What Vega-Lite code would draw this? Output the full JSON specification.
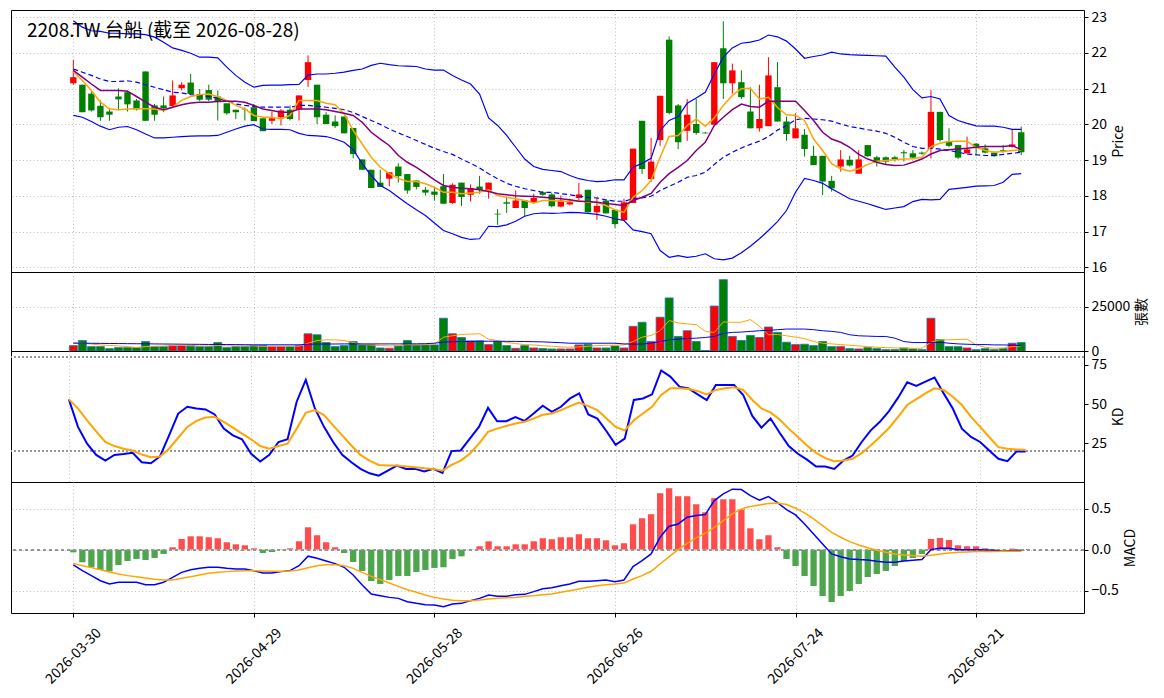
{
  "$schema": "https://vega.github.io/schema/vega-lite/v6.json",
  "description": "2208.TW candlestick with Bollinger bands, volume, KD and MACD",
  "background": "white",
  "padding": {"left": 10, "top": 9, "right": 5, "bottom": 5},
  "autosize": {"type": "pad"},
  "spacing": 0,
  "bounds": "flush",
  "config": {
    "font": "Noto Sans CJK TC",
    "view": {"stroke": "black", "strokeWidth": 1},
    "axis": {
      "domain": false,
      "gridColor": "#b0b0b0",
      "gridDash": [1, 2.5],
      "gridWidth": 0.8,
      "tickColor": "black",
      "tickSize": 4,
      "labelColor": "black",
      "labelFontSize": 14,
      "labelPadding": 3,
      "labelOverlap": false,
      "titleColor": "black",
      "titleFontSize": 14,
      "titleFontWeight": "normal"
    }
  },
  "datasets": {
    "d": [
      {"i":0,"o":21.15,"h":21.80,"l":21.11,"c":21.32,"v":3050,"bu":22.90,"bm":21.55,"bl":20.25,"m5":21.48,"m10":21.51,"v5":4700,"v20":4400,"k":53.0,"d":53.0,"hist":-0.033,"dif":-0.185,"dea":-0.168},
      {"i":1,"o":21.11,"h":21.11,"l":20.34,"c":20.34,"v":5900,"bu":22.72,"bm":21.46,"bl":20.20,"m5":21.23,"m10":21.32,"v5":4400,"v20":4380,"k":35.5,"d":47.2,"hist":-0.155,"dif":-0.257,"dea":-0.196},
      {"i":2,"o":20.86,"h":20.92,"l":20.36,"c":20.39,"v":2480,"bu":22.62,"bm":21.37,"bl":20.08,"m5":20.95,"m10":21.13,"v5":3900,"v20":4350,"k":24.8,"d":39.7,"hist":-0.216,"dif":-0.318,"dea":-0.220},
      {"i":3,"o":20.52,"h":20.67,"l":20.10,"c":20.20,"v":2480,"bu":22.60,"bm":21.27,"bl":19.95,"m5":20.62,"m10":20.95,"v5":3400,"v20":4300,"k":17.7,"d":32.7,"hist":-0.249,"dif":-0.380,"dea":-0.245},
      {"i":4,"o":20.36,"h":20.46,"l":20.10,"c":20.27,"v":1340,"bu":22.55,"bm":21.20,"bl":19.85,"m5":20.43,"m10":20.95,"v5":3100,"v20":4250,"k":14.1,"d":25.9,"hist":-0.265,"dif":-0.420,"dea":-0.273},
      {"i":5,"o":20.78,"h":21.01,"l":20.39,"c":20.70,"v":1900,"bu":22.55,"bm":21.20,"bl":19.92,"m5":20.41,"m10":20.95,"v5":2900,"v20":4200,"k":17.7,"d":23.3,"hist":-0.188,"dif":-0.400,"dea":-0.298},
      {"i":6,"o":20.90,"h":20.95,"l":20.36,"c":20.56,"v":1900,"bu":22.53,"bm":21.22,"bl":19.94,"m5":20.43,"m10":20.93,"v5":2500,"v20":4150,"k":18.2,"d":21.6,"hist":-0.139,"dif":-0.400,"dea":-0.318},
      {"i":7,"o":20.67,"h":20.71,"l":20.39,"c":20.42,"v":1900,"bu":22.53,"bm":21.18,"bl":19.85,"m5":20.44,"m10":20.78,"v5":2000,"v20":4100,"k":19.0,"d":20.5,"hist":-0.114,"dif":-0.400,"dea":-0.331},
      {"i":8,"o":21.48,"h":21.48,"l":20.10,"c":20.10,"v":5340,"bu":22.51,"bm":21.11,"bl":19.73,"m5":20.44,"m10":20.62,"v5":2500,"v20":4050,"k":13.0,"d":17.9,"hist":-0.127,"dif":-0.429,"dea":-0.347},
      {"i":9,"o":20.53,"h":20.57,"l":20.10,"c":20.27,"v":2480,"bu":22.44,"bm":21.04,"bl":19.62,"m5":20.43,"m10":20.48,"v5":2700,"v20":4000,"k":12.4,"d":16.2,"hist":-0.102,"dif":-0.429,"dea":-0.363},
      {"i":10,"o":20.53,"h":20.78,"l":20.34,"c":20.45,"v":2480,"bu":22.30,"bm":20.97,"bl":19.62,"m5":20.39,"m10":20.41,"v5":2800,"v20":3950,"k":16.7,"d":16.7,"hist":-0.053,"dif":-0.400,"dea":-0.371},
      {"i":11,"o":20.51,"h":21.23,"l":20.48,"c":20.81,"v":3050,"bu":22.14,"bm":20.90,"bl":19.64,"m5":20.48,"m10":20.48,"v5":3050,"v20":3900,"k":30.1,"d":21.6,"hist":0.029,"dif":-0.339,"dea":-0.371},
      {"i":12,"o":21.01,"h":21.18,"l":20.95,"c":21.11,"v":3050,"bu":22.07,"bm":20.88,"bl":19.66,"m5":20.67,"m10":20.55,"v5":3200,"v20":3850,"k":44.0,"d":28.6,"hist":0.131,"dif":-0.278,"dea":-0.351},
      {"i":13,"o":21.17,"h":21.41,"l":20.85,"c":20.85,"v":3050,"bu":21.99,"bm":20.83,"bl":19.67,"m5":20.78,"m10":20.60,"v5":2900,"v20":3800,"k":48.3,"d":35.5,"hist":0.163,"dif":-0.245,"dea":-0.331},
      {"i":14,"o":20.85,"h":20.99,"l":20.65,"c":20.69,"v":2480,"bu":21.88,"bm":20.81,"bl":19.68,"m5":20.83,"m10":20.62,"v5":2850,"v20":3750,"k":47.2,"d":39.3,"hist":0.163,"dif":-0.229,"dea":-0.310},
      {"i":15,"o":20.96,"h":21.11,"l":20.65,"c":20.69,"v":2480,"bu":21.88,"bm":20.78,"bl":19.68,"m5":20.85,"m10":20.62,"v5":2850,"v20":3700,"k":46.6,"d":41.5,"hist":0.151,"dif":-0.216,"dea":-0.290},
      {"i":16,"o":20.78,"h":20.95,"l":20.11,"c":20.64,"v":4770,"bu":21.86,"bm":20.73,"bl":19.69,"m5":20.78,"m10":20.64,"v5":3150,"v20":3700,"k":43.4,"d":41.9,"hist":0.139,"dif":-0.216,"dea":-0.278},
      {"i":17,"o":20.59,"h":20.59,"l":20.27,"c":20.31,"v":1900,"bu":21.60,"bm":20.65,"bl":19.78,"m5":20.67,"m10":20.65,"v5":2900,"v20":3650,"k":34.4,"d":38.7,"hist":0.090,"dif":-0.229,"dea":-0.269},
      {"i":18,"o":20.41,"h":20.41,"l":20.15,"c":20.34,"v":2480,"bu":21.37,"bm":20.57,"bl":19.87,"m5":20.53,"m10":20.65,"v5":2850,"v20":3600,"k":30.1,"d":35.0,"hist":0.065,"dif":-0.237,"dea":-0.261},
      {"i":19,"o":20.42,"h":20.48,"l":20.11,"c":20.41,"v":2480,"bu":21.18,"bm":20.53,"bl":19.95,"m5":20.43,"m10":20.62,"v5":2850,"v20":3550,"k":27.6,"d":31.2,"hist":0.053,"dif":-0.237,"dea":-0.257},
      {"i":20,"o":20.48,"h":20.57,"l":20.09,"c":20.09,"v":3050,"bu":21.04,"bm":20.50,"bl":19.99,"m5":20.25,"m10":20.53,"v5":2900,"v20":3500,"k":18.4,"d":27.6,"hist":0.016,"dif":-0.257,"dea":-0.257},
      {"i":21,"o":20.17,"h":20.17,"l":19.81,"c":19.81,"v":3050,"bu":21.09,"bm":20.48,"bl":19.87,"m5":20.20,"m10":20.43,"v5":2600,"v20":3500,"k":13.5,"d":23.3,"hist":-0.041,"dif":-0.286,"dea":-0.261},
      {"i":22,"o":20.10,"h":20.36,"l":20.01,"c":20.17,"v":2480,"bu":21.10,"bm":20.48,"bl":19.86,"m5":20.20,"m10":20.39,"v5":2700,"v20":3500,"k":17.7,"d":21.6,"hist":-0.029,"dif":-0.286,"dea":-0.265},
      {"i":23,"o":20.20,"h":20.43,"l":19.97,"c":20.39,"v":2480,"bu":21.10,"bm":20.48,"bl":19.86,"m5":20.15,"m10":20.34,"v5":2700,"v20":3500,"k":25.9,"d":23.3,"hist":-0.005,"dif":-0.269,"dea":-0.264},
      {"i":24,"o":20.41,"h":20.53,"l":20.11,"c":20.15,"v":2480,"bu":21.11,"bm":20.48,"bl":19.85,"m5":20.25,"m10":20.34,"v5":2700,"v20":3500,"k":27.6,"d":24.8,"hist":0.016,"dif":-0.257,"dea":-0.260},
      {"i":25,"o":20.41,"h":20.81,"l":20.11,"c":20.81,"v":3050,"bu":21.12,"bm":20.53,"bl":19.75,"m5":20.67,"m10":20.43,"v5":2700,"v20":3500,"k":51.5,"d":34.4,"hist":0.102,"dif":-0.196,"dea":-0.249},
      {"i":26,"o":21.24,"h":21.93,"l":21.05,"c":21.74,"v":9730,"bu":21.38,"bm":20.53,"bl":19.69,"m5":20.67,"m10":20.43,"v5":4400,"v20":3820,"k":65.4,"d":44.5,"hist":0.273,"dif":-0.080,"dea":-0.222},
      {"i":27,"o":21.11,"h":21.11,"l":20.01,"c":20.20,"v":9160,"bu":21.41,"bm":20.51,"bl":19.68,"m5":20.67,"m10":20.43,"v5":5900,"v20":3900,"k":47.2,"d":46.2,"hist":0.176,"dif":-0.106,"dea":-0.196},
      {"i":28,"o":20.27,"h":20.34,"l":20.01,"c":20.01,"v":4770,"bu":21.41,"bm":20.48,"bl":19.66,"m5":20.59,"m10":20.41,"v5":6300,"v20":3950,"k":35.5,"d":43.0,"hist":0.090,"dif":-0.139,"dea":-0.184},
      {"i":29,"o":20.08,"h":20.25,"l":19.90,"c":19.95,"v":2480,"bu":21.43,"bm":20.45,"bl":19.59,"m5":20.55,"m10":20.36,"v5":6300,"v20":3950,"k":25.9,"d":36.5,"hist":0.029,"dif":-0.171,"dea":-0.184},
      {"i":30,"o":20.22,"h":20.22,"l":19.75,"c":19.75,"v":3050,"bu":21.46,"bm":20.41,"bl":19.50,"m5":20.29,"m10":20.31,"v5":5900,"v20":4000,"k":17.7,"d":30.1,"hist":-0.041,"dif":-0.216,"dea":-0.196},
      {"i":31,"o":19.90,"h":19.90,"l":19.05,"c":19.17,"v":5340,"bu":21.51,"bm":20.33,"bl":19.29,"m5":19.83,"m10":20.25,"v5":4800,"v20":4000,"k":13.0,"d":23.7,"hist":-0.151,"dif":-0.310,"dea":-0.229},
      {"i":32,"o":19.02,"h":19.02,"l":18.73,"c":18.73,"v":3440,"bu":21.55,"bm":20.22,"bl":18.90,"m5":19.45,"m10":20.06,"v5":3800,"v20":4000,"k":8.8,"d":17.7,"hist":-0.261,"dif":-0.433,"dea":-0.278},
      {"i":33,"o":18.73,"h":18.73,"l":18.22,"c":18.22,"v":3440,"bu":21.65,"bm":20.11,"bl":18.57,"m5":19.08,"m10":19.78,"v5":3400,"v20":4000,"k":6.0,"d":14.1,"hist":-0.384,"dif":-0.543,"dea":-0.327},
      {"i":34,"o":18.37,"h":18.73,"l":18.25,"c":18.25,"v":1720,"bu":21.71,"bm":20.00,"bl":18.29,"m5":18.80,"m10":19.59,"v5":3050,"v20":4000,"k":4.5,"d":11.3,"hist":-0.420,"dif":-0.563,"dea":-0.367},
      {"i":35,"o":18.48,"h":18.66,"l":18.27,"c":18.66,"v":1530,"bu":21.67,"bm":19.87,"bl":18.15,"m5":18.62,"m10":19.41,"v5":2860,"v20":4000,"k":7.7,"d":10.9,"hist":-0.371,"dif":-0.584,"dea":-0.408},
      {"i":36,"o":18.82,"h":18.91,"l":18.37,"c":18.55,"v":2860,"bu":21.64,"bm":19.76,"bl":17.96,"m5":18.49,"m10":19.13,"v5":3050,"v20":4000,"k":10.9,"d":10.9,"hist":-0.322,"dif":-0.596,"dea":-0.449},
      {"i":37,"o":18.61,"h":18.61,"l":18.06,"c":18.15,"v":5920,"bu":21.63,"bm":19.66,"bl":17.78,"m5":18.40,"m10":18.94,"v5":3600,"v20":4050,"k":8.8,"d":10.3,"hist":-0.322,"dif":-0.637,"dea":-0.490},
      {"i":38,"o":18.43,"h":18.43,"l":18.18,"c":18.25,"v":3240,"bu":21.62,"bm":19.55,"bl":17.61,"m5":18.40,"m10":18.80,"v5":3600,"v20":4050,"k":8.8,"d":9.8,"hist":-0.273,"dif":-0.657,"dea":-0.522},
      {"i":39,"o":18.17,"h":18.25,"l":18.01,"c":18.09,"v":3440,"bu":21.55,"bm":19.44,"bl":17.45,"m5":18.34,"m10":18.63,"v5":3600,"v20":4150,"k":7.1,"d":9.2,"hist":-0.249,"dif":-0.673,"dea":-0.555},
      {"i":40,"o":18.12,"h":18.25,"l":17.87,"c":18.03,"v":3440,"bu":21.52,"bm":19.33,"bl":17.24,"m5":18.24,"m10":18.45,"v5":4000,"v20":4390,"k":8.8,"d":8.8,"hist":-0.224,"dif":-0.678,"dea":-0.584},
      {"i":41,"o":18.27,"h":18.61,"l":17.78,"c":17.78,"v":18500,"bu":21.52,"bm":19.24,"bl":17.03,"m5":18.10,"m10":18.29,"v5":7800,"v20":5000,"k":6.2,"d":7.7,"hist":-0.216,"dif":-0.698,"dea":-0.604},
      {"i":42,"o":17.80,"h":18.35,"l":17.78,"c":18.31,"v":9730,"bu":21.37,"bm":19.16,"bl":16.94,"m5":18.10,"m10":18.24,"v5":8600,"v20":5200,"k":20.1,"d":11.3,"hist":-0.114,"dif":-0.665,"dea":-0.620},
      {"i":43,"o":18.37,"h":18.37,"l":17.72,"c":17.97,"v":7630,"bu":21.24,"bm":19.03,"bl":16.84,"m5":18.06,"m10":18.21,"v5":9350,"v20":5300,"k":20.5,"d":14.1,"hist":-0.082,"dif":-0.657,"dea":-0.624},
      {"i":44,"o":18.03,"h":18.32,"l":17.85,"c":18.22,"v":5720,"bu":21.13,"bm":18.91,"bl":16.78,"m5":18.08,"m10":18.20,"v5":9540,"v20":5400,"k":28.0,"d":18.4,"hist":-0.004,"dif":-0.624,"dea":-0.624},
      {"i":45,"o":18.26,"h":18.56,"l":18.06,"c":18.17,"v":5720,"bu":20.85,"bm":18.78,"bl":16.80,"m5":18.10,"m10":18.17,"v5":9730,"v20":5530,"k":35.5,"d":24.8,"hist":0.041,"dif":-0.596,"dea":-0.616},
      {"i":46,"o":18.15,"h":18.37,"l":17.92,"c":18.37,"v":3630,"bu":20.18,"bm":18.62,"bl":17.15,"m5":18.17,"m10":18.12,"v5":6680,"v20":5530,"k":47.6,"d":32.3,"hist":0.102,"dif":-0.555,"dea":-0.604},
      {"i":47,"o":17.50,"h":17.63,"l":17.19,"c":17.48,"v":5340,"bu":19.97,"bm":18.48,"bl":17.14,"m5":18.01,"m10":18.06,"v5":5900,"v20":5500,"k":39.1,"d":34.4,"hist":0.041,"dif":-0.571,"dea":-0.596},
      {"i":48,"o":17.82,"h":17.96,"l":17.52,"c":17.78,"v":3050,"bu":19.69,"bm":18.35,"bl":17.19,"m5":17.96,"m10":18.03,"v5":4770,"v20":5450,"k":39.1,"d":36.1,"hist":0.041,"dif":-0.571,"dea":-0.588},
      {"i":49,"o":17.66,"h":18.15,"l":17.66,"c":17.87,"v":1530,"bu":19.36,"bm":18.27,"bl":17.29,"m5":17.92,"m10":18.00,"v5":4200,"v20":5400,"k":41.7,"d":37.6,"hist":0.065,"dif":-0.551,"dea":-0.584},
      {"i":50,"o":17.87,"h":17.87,"l":17.43,"c":17.66,"v":3050,"bu":19.03,"bm":18.20,"bl":17.43,"m5":17.87,"m10":17.99,"v5":3600,"v20":5340,"k":39.3,"d":38.7,"hist":0.065,"dif":-0.547,"dea":-0.571},
      {"i":51,"o":17.80,"h":18.06,"l":17.78,"c":17.94,"v":1720,"bu":18.82,"bm":18.15,"bl":17.50,"m5":17.80,"m10":17.98,"v5":3400,"v20":5250,"k":44.0,"d":40.8,"hist":0.102,"dif":-0.514,"dea":-0.563},
      {"i":52,"o":18.10,"h":18.13,"l":18.00,"c":18.03,"v":1400,"bu":18.74,"bm":18.10,"bl":17.52,"m5":17.87,"m10":17.96,"v5":3000,"v20":5150,"k":49.0,"d":43.2,"hist":0.139,"dif":-0.478,"dea":-0.551},
      {"i":53,"o":18.04,"h":18.08,"l":17.68,"c":17.71,"v":1150,"bu":18.71,"bm":18.10,"bl":17.51,"m5":17.87,"m10":17.94,"v5":2670,"v20":4900,"k":45.1,"d":44.0,"hist":0.127,"dif":-0.465,"dea":-0.543},
      {"i":54,"o":17.70,"h":18.01,"l":17.68,"c":17.87,"v":1150,"bu":18.68,"bm":18.06,"bl":17.52,"m5":17.85,"m10":17.92,"v5":2290,"v20":4700,"k":48.3,"d":46.2,"hist":0.151,"dif":-0.441,"dea":-0.522},
      {"i":55,"o":17.76,"h":17.92,"l":17.73,"c":17.82,"v":1150,"bu":18.57,"bm":18.03,"bl":17.54,"m5":17.85,"m10":17.89,"v5":2100,"v20":4390,"k":53.6,"d":48.7,"hist":0.151,"dif":-0.420,"dea":-0.502},
      {"i":56,"o":17.94,"h":18.36,"l":17.87,"c":18.04,"v":3440,"bu":18.48,"bm":17.99,"bl":17.53,"m5":17.87,"m10":17.85,"v5":2290,"v20":4390,"k":56.8,"d":50.9,"hist":0.188,"dif":-0.388,"dea":-0.482},
      {"i":57,"o":18.17,"h":18.17,"l":17.54,"c":17.54,"v":3820,"bu":18.43,"bm":17.96,"bl":17.51,"m5":17.82,"m10":17.84,"v5":2670,"v20":4390,"k":43.4,"d":48.7,"hist":0.139,"dif":-0.388,"dea":-0.461},
      {"i":58,"o":17.54,"h":17.96,"l":17.33,"c":17.72,"v":1720,"bu":18.40,"bm":17.94,"bl":17.48,"m5":17.82,"m10":17.82,"v5":3050,"v20":4390,"k":40.8,"d":46.2,"hist":0.139,"dif":-0.380,"dea":-0.441},
      {"i":59,"o":17.87,"h":17.87,"l":17.51,"c":17.51,"v":1720,"bu":18.41,"bm":17.89,"bl":17.43,"m5":17.73,"m10":17.79,"v5":3240,"v20":4390,"k":32.7,"d":40.8,"hist":0.114,"dif":-0.371,"dea":-0.429},
      {"i":60,"o":17.61,"h":17.61,"l":17.10,"c":17.21,"v":2860,"bu":18.45,"bm":17.85,"bl":17.36,"m5":17.61,"m10":17.76,"v5":3240,"v20":4390,"k":24.1,"d":35.5,"hist":0.053,"dif":-0.392,"dea":-0.420},
      {"i":61,"o":17.32,"h":17.92,"l":17.30,"c":17.82,"v":1720,"bu":18.45,"bm":17.85,"bl":17.31,"m5":17.54,"m10":17.73,"v5":3440,"v20":4000,"k":28.0,"d":33.3,"hist":0.078,"dif":-0.371,"dea":-0.408},
      {"i":62,"o":17.80,"h":19.32,"l":17.80,"c":19.32,"v":13930,"bu":18.80,"bm":17.92,"bl":17.05,"m5":17.96,"m10":17.87,"v5":5340,"v20":3900,"k":52.6,"d":39.7,"hist":0.310,"dif":-0.208,"dea":-0.359},
      {"i":63,"o":20.10,"h":20.10,"l":18.61,"c":18.75,"v":16220,"bu":18.91,"bm":17.94,"bl":17.00,"m5":18.15,"m10":17.96,"v5":7820,"v20":3900,"k":53.6,"d":44.0,"hist":0.384,"dif":-0.135,"dea":-0.318},
      {"i":64,"o":18.47,"h":19.62,"l":18.39,"c":18.96,"v":5340,"bu":19.05,"bm":17.99,"bl":16.94,"m5":18.43,"m10":18.07,"v5":8780,"v20":4390,"k":56.2,"d":48.3,"hist":0.433,"dif":-0.053,"dea":-0.265},
      {"i":65,"o":19.56,"h":20.80,"l":19.40,"c":20.80,"v":19080,"bu":19.83,"bm":18.15,"bl":16.47,"m5":19.08,"m10":18.38,"v5":11450,"v20":5340,"k":71.4,"d":55.8,"hist":0.690,"dif":0.151,"dea":-0.176},
      {"i":66,"o":22.37,"h":22.46,"l":20.28,"c":20.32,"v":29960,"bu":20.11,"bm":18.27,"bl":16.28,"m5":19.66,"m10":18.62,"v5":17180,"v20":6300,"k":67.5,"d":60.0,"hist":0.751,"dif":0.286,"dea":-0.086},
      {"i":67,"o":20.53,"h":20.57,"l":19.31,"c":19.50,"v":8210,"bu":20.22,"bm":18.38,"bl":16.33,"m5":19.69,"m10":18.80,"v5":15840,"v20":6680,"k":61.1,"d":60.0,"hist":0.653,"dif":0.314,"dea":0.0},
      {"i":68,"o":19.82,"h":20.71,"l":19.54,"c":20.27,"v":11450,"bu":20.59,"bm":18.52,"bl":16.28,"m5":19.97,"m10":18.99,"v5":15270,"v20":7060,"k":60.0,"d":59.6,"hist":0.653,"dif":0.396,"dea":0.078},
      {"i":69,"o":20.01,"h":20.71,"l":19.71,"c":19.76,"v":5340,"bu":20.74,"bm":18.57,"bl":16.31,"m5":20.15,"m10":19.27,"v5":14890,"v20":7250,"k":56.2,"d":58.3,"hist":0.555,"dif":0.416,"dea":0.143},
      {"i":70,"o":19.77,"h":19.79,"l":19.74,"c":19.75,"v":300,"bu":20.90,"bm":18.66,"bl":16.38,"m5":19.95,"m10":19.50,"v5":11070,"v20":7630,"k":52.6,"d":56.2,"hist":0.457,"dif":0.429,"dea":0.200},
      {"i":71,"o":19.99,"h":21.74,"l":19.99,"c":21.74,"v":25380,"bu":21.41,"bm":18.88,"bl":16.24,"m5":20.18,"m10":19.97,"v5":10500,"v20":8210,"k":62.2,"d":59.0,"hist":0.629,"dif":0.600,"dea":0.273},
      {"i":72,"o":22.13,"h":22.88,"l":20.71,"c":21.15,"v":40270,"bu":21.88,"bm":19.08,"bl":16.21,"m5":20.53,"m10":20.20,"v5":16410,"v20":9920,"k":62.2,"d":60.0,"hist":0.616,"dif":0.682,"dea":0.355},
      {"i":73,"o":21.15,"h":21.70,"l":20.86,"c":21.51,"v":8210,"bu":22.14,"bm":19.22,"bl":16.26,"m5":20.81,"m10":20.41,"v5":16220,"v20":10500,"k":62.2,"d":60.7,"hist":0.616,"dif":0.739,"dea":0.437},
      {"i":74,"o":21.18,"h":21.51,"l":20.71,"c":20.76,"v":5920,"bu":22.27,"bm":19.34,"bl":16.41,"m5":21.00,"m10":20.57,"v5":16220,"v20":10690,"k":55.8,"d":59.0,"hist":0.490,"dif":0.735,"dea":0.498},
      {"i":75,"o":20.36,"h":21.04,"l":19.89,"c":19.89,"v":8780,"bu":22.30,"bm":19.44,"bl":16.59,"m5":21.01,"m10":20.50,"v5":17750,"v20":11070,"k":42.5,"d":52.6,"hist":0.261,"dif":0.661,"dea":0.527},
      {"i":76,"o":19.89,"h":21.11,"l":19.80,"c":20.15,"v":7630,"bu":22.36,"bm":19.53,"bl":16.80,"m5":20.71,"m10":20.48,"v5":13930,"v20":11450,"k":35.0,"d":47.2,"hist":0.127,"dif":0.604,"dea":0.547},
      {"i":77,"o":19.95,"h":21.88,"l":19.95,"c":21.37,"v":13550,"bu":22.50,"bm":19.66,"bl":17.03,"m5":20.76,"m10":20.65,"v5":9160,"v20":11640,"k":40.8,"d":44.7,"hist":0.176,"dif":0.649,"dea":0.563},
      {"i":78,"o":21.04,"h":21.74,"l":20.08,"c":20.08,"v":10500,"bu":22.45,"bm":19.84,"bl":17.28,"m5":20.47,"m10":20.65,"v5":9350,"v20":12020,"k":31.8,"d":40.2,"hist":0.029,"dif":0.575,"dea":0.569},
      {"i":79,"o":20.08,"h":20.22,"l":19.54,"c":19.73,"v":4960,"bu":22.33,"bm":19.97,"bl":17.59,"m5":20.27,"m10":20.65,"v5":8590,"v20":12400,"k":23.3,"d":34.4,"hist":-0.114,"dif":0.490,"dea":0.551},
      {"i":80,"o":19.61,"h":20.31,"l":19.61,"c":19.89,"v":3630,"bu":22.11,"bm":20.13,"bl":18.10,"m5":20.25,"m10":20.65,"v5":7820,"v20":12400,"k":18.4,"d":29.1,"hist":-0.200,"dif":0.424,"dea":0.506},
      {"i":81,"o":19.71,"h":19.87,"l":19.10,"c":19.31,"v":3820,"bu":21.85,"bm":20.17,"bl":18.49,"m5":20.11,"m10":20.39,"v5":7060,"v20":12400,"k":14.7,"d":23.7,"hist":-0.322,"dif":0.314,"dea":0.449},
      {"i":82,"o":19.12,"h":19.40,"l":18.86,"c":18.86,"v":3050,"bu":21.90,"bm":20.15,"bl":18.43,"m5":19.59,"m10":20.11,"v5":5340,"v20":12020,"k":10.3,"d":19.0,"hist":-0.445,"dif":0.192,"dea":0.376},
      {"i":83,"o":19.12,"h":19.12,"l":18.02,"c":18.40,"v":5340,"bu":21.94,"bm":20.13,"bl":18.35,"m5":19.27,"m10":19.78,"v5":4390,"v20":11450,"k":10.3,"d":15.6,"hist":-0.567,"dif":0.069,"dea":0.294},
      {"i":84,"o":18.42,"h":18.56,"l":18.12,"c":18.21,"v":2480,"bu":22.02,"bm":20.09,"bl":18.20,"m5":18.90,"m10":19.59,"v5":4010,"v20":11070,"k":8.8,"d":13.7,"hist":-0.641,"dif":-0.053,"dea":0.212},
      {"i":85,"o":18.82,"h":19.28,"l":18.68,"c":19.02,"v":2480,"bu":21.97,"bm":20.01,"bl":18.06,"m5":18.76,"m10":19.50,"v5":3630,"v20":10500,"k":14.1,"d":14.1,"hist":-0.567,"dif":-0.086,"dea":0.151},
      {"i":86,"o":19.01,"h":19.12,"l":18.82,"c":18.85,"v":1340,"bu":21.95,"bm":19.94,"bl":17.92,"m5":18.69,"m10":19.36,"v5":3240,"v20":9160,"k":17.3,"d":15.2,"hist":-0.506,"dif":-0.114,"dea":0.098},
      {"i":87,"o":18.62,"h":19.28,"l":18.62,"c":19.02,"v":1150,"bu":21.94,"bm":19.90,"bl":17.85,"m5":18.76,"m10":19.16,"v5":2860,"v20":8590,"k":25.9,"d":18.8,"hist":-0.420,"dif":-0.122,"dea":0.057},
      {"i":88,"o":19.42,"h":19.42,"l":19.09,"c":19.11,"v":1900,"bu":21.93,"bm":19.85,"bl":17.78,"m5":18.88,"m10":19.03,"v5":2480,"v20":8400,"k":33.3,"d":23.7,"hist":-0.335,"dif":-0.127,"dea":0.024},
      {"i":89,"o":19.08,"h":19.12,"l":18.82,"c":18.96,"v":1340,"bu":21.92,"bm":19.81,"bl":17.70,"m5":18.97,"m10":18.94,"v5":2100,"v20":8210,"k":38.7,"d":29.1,"hist":-0.298,"dif":-0.143,"dea":-0.008},
      {"i":90,"o":19.08,"h":19.10,"l":18.89,"c":18.96,"v":760,"bu":21.91,"bm":19.75,"bl":17.62,"m5":18.99,"m10":18.88,"v5":1910,"v20":8210,"k":45.5,"d":34.8,"hist":-0.261,"dif":-0.155,"dea":-0.033},
      {"i":91,"o":19.08,"h":19.12,"l":18.96,"c":19.02,"v":760,"bu":21.60,"bm":19.64,"bl":17.66,"m5":19.01,"m10":18.85,"v5":1720,"v20":7250,"k":54.1,"d":41.9,"hist":-0.200,"dif":-0.155,"dea":-0.053},
      {"i":92,"o":19.22,"h":19.28,"l":18.96,"c":19.19,"v":1720,"bu":21.32,"bm":19.50,"bl":17.70,"m5":19.03,"m10":18.86,"v5":1720,"v20":5340,"k":63.9,"d":49.4,"hist":-0.139,"dif":-0.139,"dea":-0.065},
      {"i":93,"o":19.19,"h":19.28,"l":19.05,"c":19.07,"v":1150,"bu":20.97,"bm":19.38,"bl":17.84,"m5":19.04,"m10":18.94,"v5":1530,"v20":4770,"k":61.5,"d":53.2,"hist":-0.102,"dif":-0.131,"dea":-0.073},
      {"i":94,"o":19.21,"h":19.24,"l":19.15,"c":19.18,"v":760,"bu":20.74,"bm":19.33,"bl":17.90,"m5":19.08,"m10":19.03,"v5":1530,"v20":4770,"k":64.3,"d":56.8,"hist":-0.053,"dif":-0.122,"dea":-0.082},
      {"i":95,"o":19.35,"h":20.96,"l":19.05,"c":20.35,"v":18510,"bu":20.78,"bm":19.33,"bl":17.89,"m5":19.38,"m10":19.17,"v5":4960,"v20":4770,"k":66.9,"d":60.0,"hist":0.131,"dif":0.0,"dea":-0.069},
      {"i":96,"o":20.35,"h":20.35,"l":19.52,"c":19.56,"v":6490,"bu":20.71,"bm":19.31,"bl":17.90,"m5":19.47,"m10":19.27,"v5":6300,"v20":4960,"k":56.8,"d":59.0,"hist":0.143,"dif":0.016,"dea":-0.053},
      {"i":97,"o":19.52,"h":19.89,"l":19.36,"c":19.40,"v":2480,"bu":20.25,"bm":19.27,"bl":18.18,"m5":19.52,"m10":19.29,"v5":6300,"v20":4390,"k":47.2,"d":54.7,"hist":0.118,"dif":0.016,"dea":-0.041},
      {"i":98,"o":19.42,"h":19.42,"l":19.03,"c":19.07,"v":2480,"bu":20.11,"bm":19.22,"bl":18.21,"m5":19.53,"m10":19.31,"v5":6490,"v20":4010,"k":34.4,"d":49.4,"hist":0.053,"dif":0.0,"dea":-0.033},
      {"i":99,"o":19.19,"h":19.66,"l":19.19,"c":19.30,"v":1720,"bu":20.03,"bm":19.17,"bl":18.24,"m5":19.53,"m10":19.33,"v5":6680,"v20":3820,"k":29.1,"d":41.9,"hist":0.041,"dif":0.0,"dea":-0.029},
      {"i":100,"o":19.46,"h":19.48,"l":19.12,"c":19.37,"v":760,"bu":19.96,"bm":19.15,"bl":18.27,"m5":19.36,"m10":19.36,"v5":3440,"v20":3630,"k":25.9,"d":35.5,"hist":0.041,"dif":0.0,"dea":-0.024},
      {"i":101,"o":19.33,"h":19.44,"l":19.19,"c":19.21,"v":1340,"bu":19.95,"bm":19.13,"bl":18.28,"m5":19.27,"m10":19.38,"v5":2100,"v20":3630,"k":20.5,"d":29.1,"hist":0.016,"dif":-0.004,"dea":-0.024},
      {"i":102,"o":19.21,"h":19.24,"l":19.09,"c":19.11,"v":760,"bu":19.95,"bm":19.13,"bl":18.29,"m5":19.22,"m10":19.38,"v5":1530,"v20":3440,"k":15.2,"d":22.6,"hist":0.002,"dif":-0.008,"dea":-0.022},
      {"i":103,"o":19.28,"h":19.42,"l":19.21,"c":19.26,"v":1340,"bu":19.92,"bm":19.16,"bl":18.38,"m5":19.24,"m10":19.38,"v5":1720,"v20":3440,"k":13.7,"d":21.6,"hist":-0.003,"dif":-0.020,"dea":-0.021},
      {"i":104,"o":19.37,"h":19.87,"l":19.35,"c":19.44,"v":4390,"bu":19.86,"bm":19.19,"bl":18.60,"m5":19.27,"m10":19.41,"v5":2480,"v20":3240,"k":19.9,"d":21.2,"hist":0.012,"dif":-0.012,"dea":-0.020},
      {"i":105,"o":19.78,"h":19.94,"l":19.14,"c":19.22,"v":4770,"bu":19.86,"bm":19.22,"bl":18.62,"m5":19.29,"m10":19.29,"v5":2860,"v20":3050,"k":19.9,"d":20.9,"hist":-0.004,"dif":-0.012,"dea":-0.020}
    ]
  },
  "data": {"name": "d"},
  "vconcat": [
    {
      "width": 1073,
      "height": 262,
      "title": {
        "text": "2208.TW 台船 (截至 2026-08-28)",
        "anchor": "start",
        "frame": "group",
        "baseline": "alphabetic",
        "offset": -28,
        "dx": 16,
        "dy": 18,
        "fontSize": 19,
        "fontWeight": "normal",
        "color": "black"
      },
      "encoding": {
        "x": {
          "field": "i",
          "type": "quantitative",
          "scale": {"domain": [-6.35, 111.4], "nice": false, "zero": false},
          "axis": {"values": [0, 20, 40, 60, 80, 100], "labels": false, "ticks": false, "title": null}
        }
      },
      "layer": [
        {
          "mark": {"type": "rule", "strokeWidth": 1},
          "encoding": {
            "y": {
              "field": "l",
              "type": "quantitative",
              "scale": {"domain": [15.87, 23.2], "nice": false, "zero": false},
              "axis": {"orient": "right", "values": [16, 17, 18, 19, 20, 21, 22, 23], "tickCount": 10, "labelOverlap": false, "title": "Price", "titleAngle": 270, "titleBaseline": "top", "titlePadding": 5}
            },
            "y2": {"field": "h"},
            "color": {"condition": {"test": "datum.c >= datum.o", "value": "#ff0000"}, "value": "#008000"}
          }
        },
        {
          "mark": {"type": "bar", "width": 6.4},
          "encoding": {
            "y": {"field": "o", "type": "quantitative"},
            "y2": {"field": "c"},
            "color": {"condition": {"test": "datum.c >= datum.o", "value": "#ff0000"}, "value": "#008000"}
          }
        },
        {
          "mark": {"type": "line", "color": "blue", "strokeWidth": 1.2},
          "encoding": {"y": {"field": "bu", "type": "quantitative"}}
        },
        {
          "mark": {"type": "line", "color": "blue", "strokeWidth": 1.2, "strokeDash": [5, 3]},
          "encoding": {"y": {"field": "bm", "type": "quantitative"}}
        },
        {
          "mark": {"type": "line", "color": "blue", "strokeWidth": 1.2},
          "encoding": {"y": {"field": "bl", "type": "quantitative"}}
        },
        {
          "mark": {"type": "line", "color": "orange", "strokeWidth": 1.5},
          "encoding": {"y": {"field": "m5", "type": "quantitative"}}
        },
        {
          "mark": {"type": "line", "color": "purple", "strokeWidth": 1.5},
          "encoding": {"y": {"field": "m10", "type": "quantitative"}}
        }
      ]
    },
    {
      "width": 1073,
      "height": 79,
      "encoding": {
        "x": {
          "field": "i",
          "type": "quantitative",
          "scale": {"domain": [-6.35, 111.4], "nice": false, "zero": false},
          "axis": {"values": [0, 20, 40, 60, 80, 100], "labels": false, "ticks": false, "title": null}
        }
      },
      "layer": [
        {
          "mark": {"type": "bar", "width": 8, "stroke": "#1f77b4", "strokeWidth": 0.8},
          "encoding": {
            "y": {
              "field": "v",
              "type": "quantitative",
              "scale": {"domain": [0, 44600], "nice": false},
              "axis": {"orient": "right", "values": [0, 25000], "format": "d", "labelOverlap": false, "title": "張數", "titleAngle": 270, "titleBaseline": "top", "titlePadding": 5}
            },
            "color": {"condition": {"test": "datum.c >= datum.o", "value": "#ff0000"}, "value": "#008000"}
          }
        },
        {
          "mark": {"type": "line", "color": "orange", "strokeWidth": 1},
          "encoding": {"y": {"field": "v5", "type": "quantitative"}}
        },
        {
          "mark": {"type": "line", "color": "blue", "strokeWidth": 1},
          "encoding": {"y": {"field": "v20", "type": "quantitative"}}
        }
      ]
    },
    {
      "width": 1073,
      "height": 131,
      "layer": [
        {
          "mark": {"type": "rule", "color": "#999999", "strokeWidth": 1, "strokeDash": [2, 2]},
          "encoding": {"y": {"datum": 80, "type": "quantitative"}}
        },
        {
          "mark": {"type": "rule", "color": "#999999", "strokeWidth": 1, "strokeDash": [2, 2]},
          "encoding": {"y": {"datum": 20, "type": "quantitative"}}
        },
        {
          "encoding": {
            "x": {
              "field": "i",
              "type": "quantitative",
              "scale": {"domain": [-6.35, 111.4], "nice": false, "zero": false},
              "axis": {"values": [0, 20, 40, 60, 80, 100], "labels": false, "ticks": false, "title": null}
            }
          },
          "layer": [
            {
              "mark": {"type": "line", "color": "blue", "strokeWidth": 2},
              "encoding": {
                "y": {
                  "field": "k",
                  "type": "quantitative",
                  "scale": {"domain": [0.46, 83.75], "nice": false, "zero": false},
                  "axis": {"orient": "right", "values": [25, 50, 75], "labelOverlap": false, "title": "KD", "titleAngle": 270, "titleBaseline": "top", "titlePadding": 5}
                }
              }
            },
            {
              "mark": {"type": "line", "color": "orange", "strokeWidth": 2},
              "encoding": {"y": {"field": "d", "type": "quantitative"}}
            }
          ]
        }
      ]
    },
    {
      "width": 1073,
      "height": 131,
      "layer": [
        {
          "encoding": {
            "x": {
              "field": "i",
              "type": "quantitative",
              "scale": {"domain": [-6.35, 111.4], "nice": false, "zero": false},
              "axis": {
                "values": [0, 20, 40, 60, 80, 100],
                "title": null,
                "labelAngle": -45,
                "labelAlign": "center",
                "labelBaseline": "middle",
                "labelPadding": 39,
                "labelOverlap": false,
                "labelExpr": "datum.value == 0 ? '2026-03-30' : datum.value == 20 ? '2026-04-29' : datum.value == 40 ? '2026-05-28' : datum.value == 60 ? '2026-06-26' : datum.value == 80 ? '2026-07-24' : '2026-08-21'"
              }
            }
          },
          "layer": [
            {
              "mark": {"type": "bar", "width": 6.3},
              "encoding": {
                "y": {
                  "field": "hist",
                  "type": "quantitative",
                  "scale": {"domain": [-0.775, 0.827], "nice": false, "zero": false},
                  "axis": {"orient": "right", "values": [-0.5, 0, 0.5], "format": ".1f", "labelOverlap": false, "title": "MACD", "titleAngle": 270, "titleBaseline": "top", "titlePadding": 5}
                },
                "y2": {"datum": 0},
                "color": {"condition": {"test": "datum.hist >= 0", "value": "#ff4d4d"}, "value": "#4da64d"}
              }
            }
          ]
        },
        {
          "mark": {"type": "rule", "color": "#999999", "strokeWidth": 0.8, "strokeDash": [3, 3]},
          "encoding": {"y": {"datum": 0, "type": "quantitative"}}
        },
        {
          "encoding": {
            "x": {"field": "i", "type": "quantitative"}
          },
          "layer": [
            {
              "mark": {"type": "line", "color": "blue", "strokeWidth": 1.5},
              "encoding": {"y": {"field": "dif", "type": "quantitative"}}
            },
            {
              "mark": {"type": "line", "color": "orange", "strokeWidth": 1.5},
              "encoding": {"y": {"field": "dea", "type": "quantitative"}}
            }
          ]
        }
      ]
    }
  ]
}
